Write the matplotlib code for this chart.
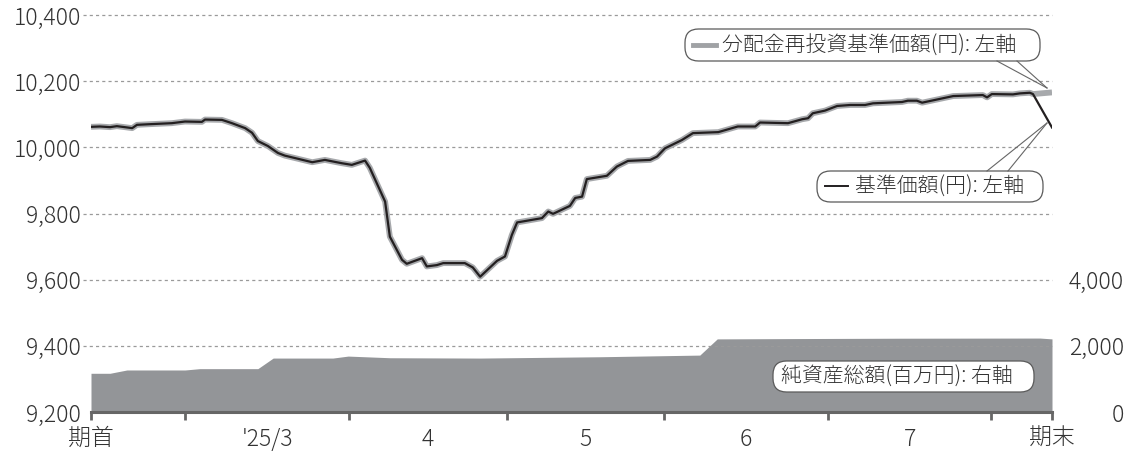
import matplotlib
matplotlib.use("Agg")
import matplotlib.pyplot as plt
from matplotlib.patches import FancyBboxPatch
from matplotlib.lines import Line2D

plt.rcParams['font.family'] = ['Noto Sans CJK JP', 'DejaVu Sans']

# ---- data (x: days since period start 2025-02-11) ----
days = [0, 1.7, 3.6, 4.9, 6.4, 7.8, 8.7, 11.2, 15.3, 17.8, 21.0, 21.6, 24.8, 26.7,
        29.2, 30.5, 31.6, 33.5, 35.4, 36.7, 41.9, 44.3, 46.2, 47.5, 49.4, 51.9, 52.8,
        55.7, 56.6, 58.9, 59.8, 62.7, 63.6, 65.5, 66.7, 70.8, 72.3, 73.7, 76.9, 78.4,
        79.7, 80.7, 85.4, 86.6, 87.5, 90.7, 91.7, 93.0, 93.9, 97.7, 99.6, 101.7, 105.9,
        107.2, 108.7, 111.9, 114.0, 118.8, 122.5, 125.8, 126.7, 132.0, 134.7, 135.8,
        136.7, 139.0, 141.3, 143.8, 146.6, 148.1, 153.6, 154.7, 156.4, 157.4, 163.3,
        168.9, 169.7, 170.6, 174.6, 175.9, 177.8, 178.4, 182.0]
nav = [10062, 10063, 10061, 10064, 10061, 10058, 10068, 10070, 10073, 10078, 10077,
       10084, 10083, 10073, 10058, 10044, 10019, 10004, 9983, 9975, 9955, 9962, 9956,
       9952, 9947, 9960, 9938, 9836, 9730, 9660, 9648, 9665, 9640, 9644, 9650, 9650,
       9637, 9609, 9657, 9670, 9735, 9773, 9786, 9806, 9799, 9823, 9847, 9851, 9904,
       9914, 9942, 9959, 9962, 9972, 9997, 10022, 10043, 10046, 10063, 10063, 10075,
       10073, 10085, 10088, 10103, 10111, 10125, 10128, 10128, 10133, 10137, 10141,
       10141, 10135, 10155, 10158, 10151, 10161, 10160, 10163, 10165, 10161, 10060]
reinvest = nav[:-1] + [10166]

asset_days = [0, 3.6, 6.8, 17.8, 20.6, 31.6, 34.5, 45.8, 48.7, 56.6, 73.7, 96.4,
              115.3, 118.6, 134.3, 153.2, 179.7, 182.0]
assets = [1170, 1170, 1270, 1270, 1310, 1310, 1630, 1630, 1690, 1640, 1630, 1670,
          1720, 2210, 2220, 2230, 2235, 2210]

month_bounds = [0, 17.8, 48.9, 78.8, 108.5, 139.6, 170.5, 182.0]
bound_labels = ['期首', '', '', '', '', '', '', '期末']
month_labels = ["'25/3", '4', '5', '6', '7']
left_ticks = [9200, 9400, 9600, 9800, 10000, 10200, 10400]
right_ticks = [0, 2000, 4000]

label_reinvest = '分配金再投資基準価額(円): 左軸'
label_nav = '基準価額(円): 左軸'
label_assets = '純資産総額(百万円): 右軸'

W, H = 1131, 453
fig = plt.figure(figsize=(W / 100, H / 100), dpi=100)
ax = fig.add_axes([91 / W, 1 - 412 / H, (1052 - 91) / W, (412 - 15) / H])
ax2 = ax.twinx()
ax2.set_zorder(ax.get_zorder() - 1)
ax.patch.set_visible(False)

txt = '#333333'
TS = 16.5
# area (right axis)
ax2.fill_between(asset_days, 0, assets, color='#939598', lw=0)
ax2.set_ylim(0, 12000)
ax2.set_yticks(right_ticks)
ax2.set_yticklabels([f'{v:,}' for v in right_ticks])
ax2.tick_params(axis='y', length=0, pad=52, labelsize=TS, labelcolor=txt)
for lab in ax2.get_yticklabels():
    lab.set_horizontalalignment('right')
    lab.set_fontweight('light')
for s in ax2.spines.values():
    s.set_visible(False)

# gridlines
for v in left_ticks[1:]:
    ax.axhline(v, xmin=-0.008, xmax=1, color='#9a9a9a', lw=0.9,
               ls=(0, (2.5, 2.5)), clip_on=False, zorder=1)

ax.plot(days, reinvest, color='#a7a9ac', lw=4.2, solid_capstyle='butt', zorder=3)
ax.plot(days, nav, color='#231f20', lw=1.6, zorder=4)

ax.set_xlim(0, 182)
ax.set_ylim(9200, 10400)
ax.set_yticks(left_ticks)
ax.set_yticklabels([f'{v:,}' for v in left_ticks])
ax.tick_params(axis='y', length=0, pad=7, labelsize=TS, labelcolor=txt)

ax.set_xticks(month_bounds)
ax.set_xticklabels(bound_labels)
mids = [(a + b) / 2 for a, b in zip(month_bounds[1:-2], month_bounds[2:-1])]
ax.set_xticks(mids, minor=True)
ax.set_xticklabels(month_labels, minor=True)
ax.tick_params(axis='x', which='major', length=6, width=2, color='#666666',
               pad=4, labelsize=TS, labelcolor=txt)
ax.tick_params(axis='x', which='minor', length=0, pad=10.5, labelsize=TS, labelcolor=txt)
for lab in ax.get_yticklabels() + ax.get_xticklabels() + ax.get_xticklabels(minor=True):
    lab.set_fontweight('light')
for s in ['left', 'right', 'top']:
    ax.spines[s].set_visible(False)
ax.spines['bottom'].set_color('#666666')
ax.spines['bottom'].set_linewidth(2.2)
ax.spines['bottom'].set_zorder(5)


def P(x, y):
    return (x / W, 1 - y / H)


def box(x0, y0, x1, y1):
    p = FancyBboxPatch(P(x0, y1), (x1 - x0) / W, (y1 - y0) / H,
                       boxstyle='round,pad=0,rounding_size=0.012',
                       transform=fig.transFigure, facecolor='white',
                       edgecolor='#5a5a5a', lw=0.9, zorder=10, mutation_aspect=W / H)
    fig.add_artist(p)


def line(x0, y0, x1, y1, **kw):
    a, b = P(x0, y0)
    c, d = P(x1, y1)
    fig.add_artist(Line2D([a, c], [b, d], transform=fig.transFigure, zorder=11, **kw))


# legend 1
box(685, 29, 1040, 61)
line(693, 45, 716, 45, color='#a0a2a5', lw=3.5)
fig.text(*P(722, 46), label_reinvest, fontsize=15, color=txt, va='center', ha='left',
         zorder=12, fontweight='light')
line(997, 61, 1047, 88, color='#666666', lw=0.8)
line(1017, 61, 1047, 88, color='#666666', lw=0.8)

# legend 2
box(817, 171, 1043, 202)
line(825, 186, 848, 186, color='#231f20', lw=1.4)
fig.text(*P(855, 187), label_nav, fontsize=15, color=txt, va='center', ha='left',
         zorder=12, fontweight='light')
line(987, 171, 1047, 123, color='#666666', lw=0.8)
line(1008, 171, 1047, 123, color='#666666', lw=0.8)

# legend 3
box(773, 361, 1034, 392)
fig.text(*P(781, 377), label_assets, fontsize=15, color=txt, va='center', ha='left',
         zorder=12, fontweight='light')

fig.savefig('out.png', dpi=100)
